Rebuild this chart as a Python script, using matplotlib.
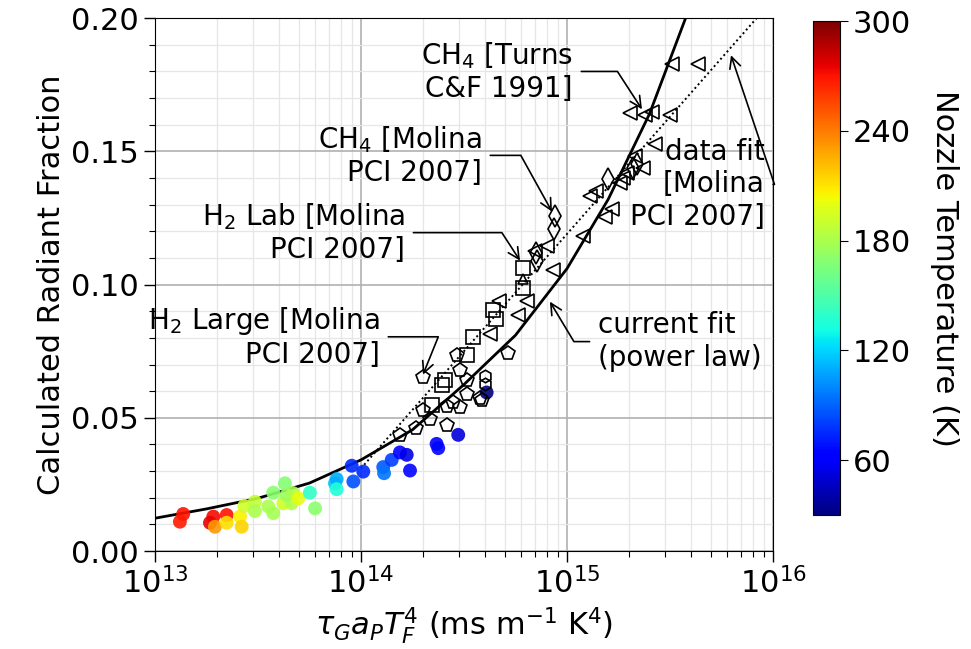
import numpy as np
import matplotlib
matplotlib.use("Agg")
import matplotlib.pyplot as plt
from matplotlib.ticker import MultipleLocator, LogLocator, NullFormatter

# colored points: log10(x), radiant fraction, nozzle temperature (K)
col_exp = [13.137, 13.121, 13.283, 13.267, 13.348, 13.291, 13.348, 13.413, 13.421, 13.434,
           13.485, 13.485, 13.550, 13.574, 13.574, 13.631, 13.623, 13.663, 13.639, 13.671,
           13.696, 13.752, 13.777, 13.874, 13.882, 13.882, 13.955, 13.963, 14.011, 14.108,
           14.112, 14.149, 14.189, 14.222, 14.238, 14.367, 14.375, 14.472, 14.610]
col_frac = [0.0139, 0.0110, 0.0129, 0.0106, 0.0135, 0.0091, 0.0106, 0.0129, 0.0091, 0.0169,
            0.0185, 0.0150, 0.0167, 0.0142, 0.0219, 0.0254, 0.0179, 0.0179, 0.0210, 0.0217,
            0.0198, 0.0219, 0.0160, 0.0254, 0.0270, 0.0232, 0.0320, 0.0261, 0.0298, 0.0315,
            0.0292, 0.0342, 0.0370, 0.0361, 0.0302, 0.0402, 0.0386, 0.0436, 0.0595]
col_temp = [270, 268, 272, 275, 270, 232, 212, 207, 215, 192,
            188, 180, 180, 178, 170, 168, 192, 182, 175, 180,
            200, 140, 170, 115, 110, 135, 75, 85, 75, 88,
            95, 80, 62, 55, 65, 62, 65, 52, 30]

# H2 large [Molina PCI 2007] (pentagons)
h2l_exp = [14.302, 14.465, 14.481, 14.513, 14.578, 14.513, 14.481, 14.416, 14.448, 14.302,
           14.335, 14.267, 14.416, 14.189, 14.715, 14.586]
h2l_frac = [0.0653, 0.0737, 0.0678, 0.0643, 0.0574, 0.0590, 0.0540, 0.0545, 0.0561, 0.0530,
            0.0495, 0.0461, 0.0474, 0.0436, 0.0743, 0.0568]
hex_exp = [14.602, 14.602]
hex_frac = [0.0655, 0.0628]

# H2 lab [Molina PCI 2007] (squares)
h2lab_exp = [14.545, 14.513, 14.408, 14.392, 14.343, 14.788, 14.788, 14.642, 14.655]
h2lab_frac = [0.0803, 0.0737, 0.0643, 0.0624, 0.0549, 0.1063, 0.0988, 0.0906, 0.0871]
up_exp = [14.784]
up_frac = [0.1021]

# CH4 [Molina PCI 2007] (diamonds)
ch4m_exp = [14.942, 14.937, 14.850, 14.856, 15.200, 15.322, 15.338]
ch4m_frac = [0.1257, 0.1209, 0.1119, 0.1087, 0.1395, 0.1439, 0.1451]

# CH4 [Turns C&F 1991] (left triangles)
ch4t_exp = [14.626, 14.671, 14.804, 14.764, 14.934, 14.901, 14.845, 15.079, 15.184, 15.217,
            15.112, 15.141, 15.257, 15.273, 15.290, 15.370, 15.330, 15.427, 15.306, 15.379,
            15.411, 15.500, 15.508, 15.637]
ch4t_frac = [0.0816, 0.0937, 0.0937, 0.0887, 0.1054, 0.1146, 0.1125, 0.1181, 0.1254, 0.1282,
             0.1332, 0.1351, 0.1382, 0.1401, 0.1420, 0.1439, 0.1482, 0.1526, 0.1645, 0.1635,
             0.1648, 0.1635, 0.1827, 0.1827]

# fits
pow_exp = [13.0, 13.25, 13.5, 13.75, 14.0, 14.25, 14.5, 14.75, 15.0, 15.2, 15.4, 15.6]
pow_frac = [0.0123, 0.0158, 0.0198, 0.0255, 0.0342, 0.0455, 0.0625, 0.0810, 0.1060, 0.1320,
            0.1640, 0.2050]
mol_exp = [14.0, 14.5, 15.0, 15.5, 16.0]
mol_frac = [0.031, 0.075, 0.119, 0.163, 0.207]


def ex(v):
    return 10.0 ** np.array(v)


fig = plt.figure(figsize=(9.71, 6.49), dpi=100)
ax = fig.add_axes([0.1596, 0.151, 0.6365, 0.821])
ax.set_xscale("log")

ax.grid(True, which="major", color="#b0b0b0", lw=1.2, zorder=0)
ax.grid(True, which="minor", color="#e6e6e6", lw=0.9, zorder=0)
ax.set_axisbelow(True)

ax.plot(ex(pow_exp), pow_frac, color="k", lw=2.0, zorder=3)
ax.plot(ex(mol_exp), mol_frac, color="k", lw=1.4, ls=(0, (1.0, 1.5)), zorder=3)

sc = ax.scatter(ex(col_exp), col_frac, c=col_temp, cmap="jet", vmin=30, vmax=300,
                s=100, alpha=0.9, edgecolors="none", zorder=4)

mk = dict(ls="none", mfc="none", mec="k", mew=1.2, zorder=5)
ax.plot(ex(h2l_exp), h2l_frac, marker="p", ms=10, **mk)
ax.plot(ex(hex_exp), hex_frac, marker="h", ms=9, **mk)
ax.plot(ex(h2lab_exp), h2lab_frac, marker="s", ms=9.5, **mk)
ax.plot(ex(up_exp), up_frac, marker="^", ms=7, **mk)
ax.plot(ex(ch4m_exp), ch4m_frac, marker="d", ms=11, **mk)
ax.plot(ex(ch4t_exp), ch4t_frac, marker="<", ms=10, **mk)

ax.set_xlim(1e13, 1e16)
ax.set_ylim(0, 0.2)
ax.yaxis.set_major_locator(MultipleLocator(0.05))
ax.yaxis.set_minor_locator(MultipleLocator(0.01))
ax.yaxis.set_major_formatter(plt.FormatStrFormatter("%.2f"))
ax.xaxis.set_minor_locator(LogLocator(base=10, subs=np.arange(2, 10)))
ax.xaxis.set_minor_formatter(NullFormatter())
ax.tick_params(which="major", labelsize=22, length=8, width=1.0)
ax.tick_params(which="minor", length=4, width=0.8)

ax.set_xlabel(r"$\tau_G a_P T_F^4$ (ms m$^{-1}$ K$^4$)", fontsize=22)
ax.set_ylabel("Calculated Radiant Fraction", fontsize=22)


def note(text, xy, xyt, angle_b, ha="right"):
    rel = (1, 0.5) if ha == "right" else (0, 0.5)
    ax.annotate(text, xy=(10 ** xy[0], xy[1]), xytext=(10 ** xyt[0], xyt[1]),
                ha=ha, va="center", fontsize=20, zorder=6,
                arrowprops=dict(arrowstyle="->", color="k", lw=1.2, relpos=rel,
                                shrinkA=4, shrinkB=0,
                                connectionstyle=f"angle,angleA=0,angleB={angle_b},rad=0"))


note("CH$_4$ [Turns\nC&F 1991]", (15.364, 0.1658), (15.029, 0.180), -57)
note("CH$_4$ [Molina\nPCI 2007]", (14.927, 0.1274), (14.587, 0.1485), -61)
note("H$_2$ Lab [Molina\nPCI 2007]", (14.772, 0.1090), (14.214, 0.1195), -57)
note("H$_2$ Large [Molina\nPCI 2007]", (14.301, 0.0662), (14.092, 0.0804), 68)
note("current fit\n(power law)", (14.917, 0.0936), (15.150, 0.0786), 121, ha="left")
note("data fit\n[Molina\nPCI 2007]", (15.796, 0.1861), (15.960, 0.1376), 108.6)

cax = fig.add_axes([0.837, 0.2065, 0.028, 0.761])
cb = fig.colorbar(sc, cax=cax, ticks=[60, 120, 180, 240, 300])
cb.solids.set_alpha(1)
cb.ax.tick_params(labelsize=22, length=6)
cb.set_label("Nozzle Temperature (K)", fontsize=22, rotation=270, labelpad=34)

fig.savefig("out.png", dpi=100)
